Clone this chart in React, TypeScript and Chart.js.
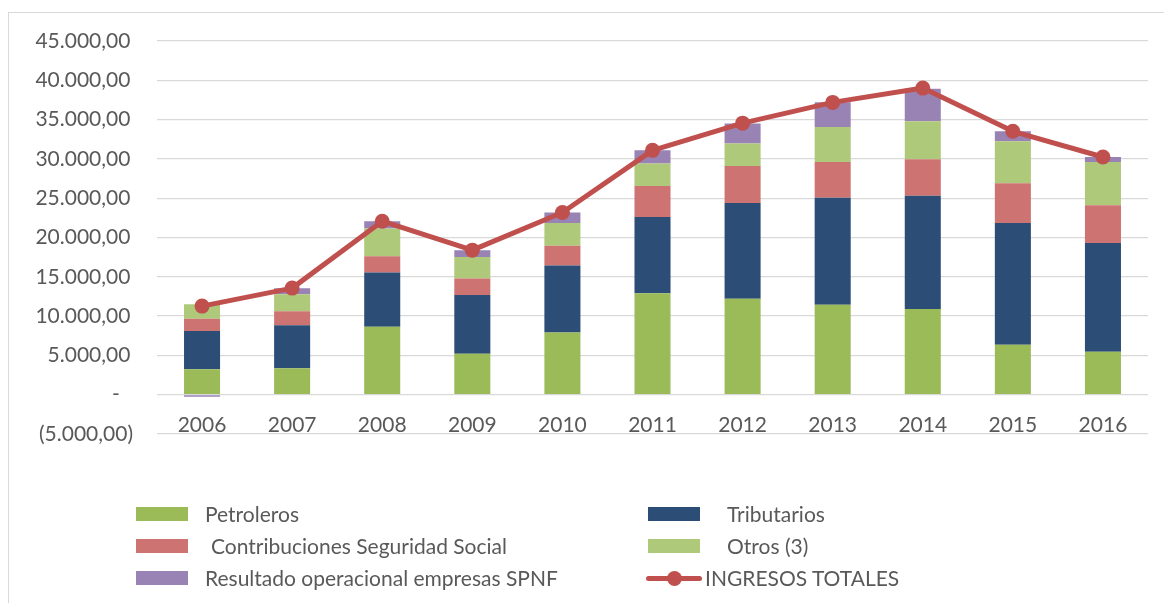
import React, { useEffect, useRef } from 'react';
import { Chart, registerables } from 'chart.js';

Chart.register(...registerables);

// ---- data ----
const categories = ['2006', '2007', '2008', '2009', '2010', '2011', '2012', '2013', '2014', '2015', '2016'];
const petroleros = [3250, 3350, 8650, 5200, 7900, 12900, 12200, 11450, 10900, 6350, 5450];
const tributarios = [4870, 5500, 6900, 7500, 8550, 9700, 12200, 13600, 14400, 15500, 13850];
const contribuciones = [1530, 1780, 2070, 2080, 2490, 3950, 4700, 4550, 4650, 5050, 4800];
const otros = [1870, 2160, 3520, 2750, 2920, 2850, 2850, 4450, 4830, 5330, 5500];
const resultado = [-250, 760, 930, 850, 1310, 1690, 2540, 3150, 4150, 1280, 650];
const ingresosTotales = [11270, 13560, 22070, 18390, 23180, 31090, 34550, 37190, 39010, 33510, 30240];

const yMin = -5000;
const yMax = 45000;
const yStep = 5000;

const labelPetroleros = 'Petroleros';
const labelTributarios = 'Tributarios';
const labelContribuciones = 'Contribuciones Seguridad Social';
const labelOtros = 'Otros (3)';
const labelResultado = 'Resultado operacional empresas SPNF';
const labelTotales = 'INGRESOS TOTALES';

const cPetroleros = '#9BBB59';
const cTributarios = '#2C4D75';
const cContribuciones = '#CD7371';
const cOtros = '#AFC97A';
const cResultado = '#9983B5';
const cTotales = '#C0504D';

const TEXT = '#595959';
const FONT = 'Lato, "Open Sans", sans-serif';

function fmtEs(v: number): string {
  const a = Math.abs(v);
  const intPart = Math.floor(a).toString().replace(/\B(?=(\d{3})+(?!\d))/g, '.');
  return intPart + ',00';
}

function yLabel(v: number): string {
  if (v === 0) return '-\u2002\u2009';
  if (v < 0) return '(' + fmtEs(v) + ')';
  return fmtEs(v) + '\u2009';
}

type LegendItem = { label: string; color: string; kind: 'box' | 'line'; left: number; textLeft: number; cy: number };

const legendItems: LegendItem[] = [
  { label: labelPetroleros, color: cPetroleros, kind: 'box', left: 136, textLeft: 205, cy: 513.5 },
  { label: labelTributarios, color: cTributarios, kind: 'box', left: 648, textLeft: 727, cy: 513.5 },
  { label: labelContribuciones, color: cContribuciones, kind: 'box', left: 136, textLeft: 211, cy: 545.5 },
  { label: labelOtros, color: cOtros, kind: 'box', left: 648, textLeft: 727, cy: 545.5 },
  { label: labelResultado, color: cResultado, kind: 'box', left: 136, textLeft: 205, cy: 578 },
  { label: labelTotales, color: cTotales, kind: 'line', left: 646, textLeft: 705, cy: 578 },
];

export default function App() {
  const canvasRef = useRef<HTMLCanvasElement | null>(null);

  useEffect(() => {
    const canvas = canvasRef.current;
    if (!canvas) return;
    const chart = new Chart(canvas, {
      type: 'bar',
      data: {
        labels: categories,
        datasets: [
          {
            type: 'line',
            label: labelTotales,
            data: ingresosTotales,
            borderColor: cTotales,
            backgroundColor: cTotales,
            borderWidth: 5,
            borderCapStyle: 'round',
            borderJoinStyle: 'round',
            pointRadius: 7.5,
            pointBackgroundColor: cTotales,
            pointBorderColor: cTotales,
            pointBorderWidth: 0,
            tension: 0,
            order: 0,
            stack: 'line',
          } as any,
          { label: labelPetroleros, data: petroleros, backgroundColor: cPetroleros, stack: 'bars', order: 1 },
          { label: labelTributarios, data: tributarios, backgroundColor: cTributarios, stack: 'bars', order: 1 },
          { label: labelContribuciones, data: contribuciones, backgroundColor: cContribuciones, stack: 'bars', order: 1 },
          { label: labelOtros, data: otros, backgroundColor: cOtros, stack: 'bars', order: 1 },
          { label: labelResultado, data: resultado, backgroundColor: cResultado, stack: 'bars', order: 1 },
        ],
      },
      options: {
        animation: false,
        responsive: false,
        layout: { padding: { top: 41, bottom: 169, left: 0, right: 16 } },
        datasets: { bar: { barPercentage: 0.4, categoryPercentage: 1 } } as any,
        plugins: { legend: { display: false }, tooltip: { enabled: false } },
        scales: {
          x: {
            stacked: true,
            position: { y: 0 } as any,
            grid: { display: false, drawTicks: false },
            border: { display: false },
            ticks: { padding: 18, color: TEXT, font: { family: FONT, size: 21 }, maxRotation: 0, autoSkip: false },
          },
          y: {
            stacked: true,
            min: yMin,
            max: yMax,
            grid: { color: '#D9D9D9', lineWidth: 1.3, drawTicks: false },
            border: { display: false },
            ticks: {
              stepSize: yStep,
              padding: 24,
              color: TEXT,
              font: { family: FONT, size: 21 },
              callback: (v: any) => yLabel(Number(v)),
            },
            afterFit: (s: any) => {
              s.width = 157;
            },
          },
        },
      } as any,
    });
    return () => chart.destroy();
  }, []);

  return (
    <div style={{ position: 'absolute', left: 0, top: 0, width: 1164, height: 603, overflow: 'hidden', background: '#fff' }}>
      <div
        style={{
          position: 'absolute',
          left: 8,
          top: 12,
          width: 1200,
          height: 700,
          border: '1px solid #D9D9D9',
          boxSizing: 'border-box',
        }}
      />
      <canvas ref={canvasRef} width={1164} height={603} style={{ position: 'absolute', left: 0, top: 0, display: 'block' }} />
      {legendItems.map((it) => (
        <React.Fragment key={it.label}>
          {it.kind === 'box' ? (
            <div style={{ position: 'absolute', left: it.left, top: it.cy - 7, width: 52, height: 14, background: it.color }} />
          ) : (
            <>
              <div style={{ position: 'absolute', left: it.left, top: it.cy - 2.5, width: 56, height: 5, background: it.color, borderRadius: 2.5 }} />
              <div style={{ position: 'absolute', left: it.left + 28 - 7.5, top: it.cy - 7.5, width: 15, height: 15, background: it.color, borderRadius: '50%' }} />
            </>
          )}
          <div
            style={{
              position: 'absolute',
              left: it.textLeft,
              top: it.cy - 14,
              height: 28,
              lineHeight: '28px',
              fontFamily: FONT,
              fontSize: 21,
              color: TEXT,
              whiteSpace: 'nowrap',
            }}
          >
            {it.label}
          </div>
        </React.Fragment>
      ))}
    </div>
  );
}
